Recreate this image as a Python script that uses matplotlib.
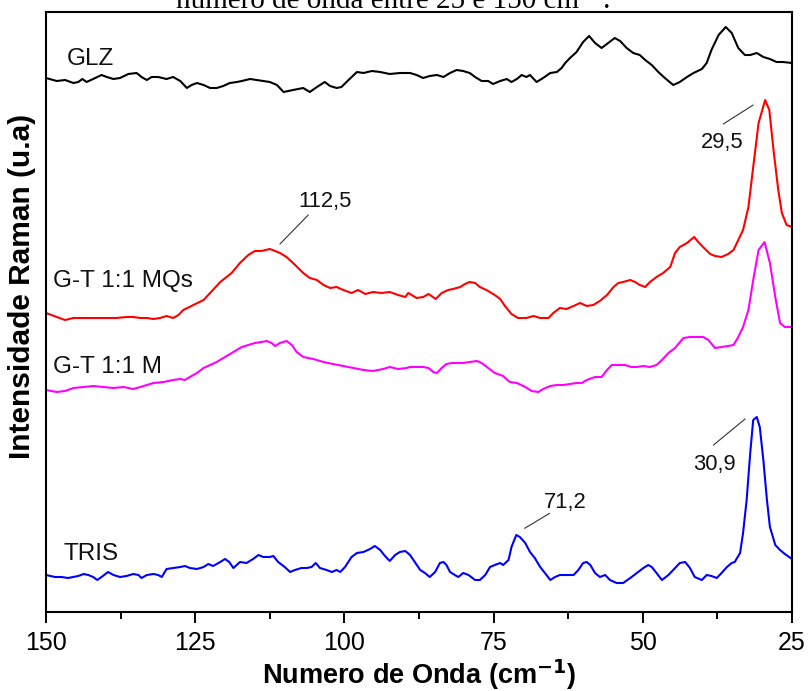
import matplotlib
matplotlib.use("Agg")
import matplotlib.pyplot as plt
from matplotlib.text import OffsetFrom
from matplotlib.ticker import MultipleLocator

# Raman spectra (wavenumber in cm^-1, intensity in arbitrary units, stacked)
glz_wn = [150.0, 148.2, 146.8, 145.4, 144.6, 143.9, 143.2, 142.1, 140.7, 139.8,
          138.7, 137.6, 136.2, 134.8, 134.0, 133.1, 132.3, 131.2, 129.8, 128.7,
          127.5, 126.4, 125.6, 124.7, 123.6, 122.5, 121.4, 120.3, 119.2, 118.0,
          117.2, 115.8, 114.7, 113.6, 112.5, 111.3, 110.2, 108.6, 106.9, 105.8,
          104.6, 103.3, 102.4, 101.3, 100.5, 99.3, 97.9, 96.8, 95.4, 94.0,
          92.4, 90.7, 89.0, 87.9, 86.8, 85.7, 84.5, 83.4, 82.3, 81.2,
          80.1, 79.0, 78.1, 77.0, 75.9, 75.1, 73.9, 72.8, 72.0, 71.1,
          70.3, 69.5, 68.9, 67.8, 66.7, 65.5, 64.4, 63.6, 63.0, 62.2,
          61.1, 60.0, 59.0, 58.0, 56.9, 55.8, 54.7, 53.8, 52.7, 51.6,
          50.5, 49.6, 48.5, 47.4, 46.3, 44.9, 43.8, 42.6, 41.5, 40.1,
          39.3, 38.5, 37.3, 36.1, 35.1, 34.0, 32.9, 32.0, 30.9, 29.8,
          28.7, 27.6, 26.5, 25.0]
glz_int = [534, 531, 532, 529, 530, 533, 530, 533, 537, 535,
           533, 534, 538, 539, 535, 532, 535, 535, 533, 535,
           531, 524, 527, 529, 527, 524, 524, 526, 529, 530,
           531, 533, 532, 531, 530, 527, 520, 522, 524, 520,
           525, 530, 526, 524, 525, 532, 540, 539, 541, 540,
           538, 539, 539, 537, 534, 536, 537, 535, 539, 542,
           541, 539, 535, 531, 531, 528, 531, 533, 530, 533,
           537, 535, 537, 530, 534, 539, 540, 544, 549, 554,
           560, 570, 576, 569, 564, 569, 574, 571, 564, 559,
           557, 552, 547, 540, 534, 527, 530, 535, 539, 543,
           549, 562, 577, 585, 579, 564, 557, 557, 559, 555,
           553, 550, 550, 549]

mqs_wn = [150.0, 148.2, 146.8, 145.4, 143.7, 142.6, 141.5, 139.8, 138.2, 136.5,
          135.4, 134.2, 133.1, 132.0, 130.9, 129.8, 128.7, 127.8, 127.0, 125.3,
          123.6, 122.5, 120.8, 118.9, 117.5, 116.1, 115.0, 113.9, 112.5, 111.6,
          110.8, 109.7, 108.6, 106.9, 105.8, 104.6, 103.5, 102.4, 101.3, 100.2,
          98.8, 97.7, 96.5, 95.2, 93.8, 92.4, 91.0, 89.8, 89.3,
          89.0, 87.9, 86.8, 85.9, 85.4, 84.7, 83.7, 82.6, 81.8, 80.6,
          79.8, 79.0, 78.1, 77.3, 76.2, 74.8, 73.9, 73.1, 72.0, 70.9,
          69.5, 68.3, 67.2, 65.8, 65.0, 63.9, 62.8, 61.6, 60.5, 59.4,
          58.3, 57.2, 56.0, 54.9, 54.1, 53.3, 52.1, 51.3, 50.5, 49.6,
          48.8, 47.7, 46.6, 45.4, 44.6, 43.8, 42.6, 41.4, 40.7, 39.9,
          38.7, 37.9, 36.8, 35.7, 34.8, 34.0, 33.2, 32.3, 31.5, 30.6,
          29.5, 28.8, 28.1, 27.3, 26.7, 25.9, 25.0]
mqs_int = [299, 295, 292, 294, 294, 294, 294, 294, 294, 295,
           295, 294, 294, 293, 294, 296, 294, 297, 302, 307,
           312, 319, 330, 339, 349, 357, 361, 361, 363, 361,
           359, 355, 349, 339, 334, 332, 327, 324, 325, 322,
           319, 322, 318, 320, 319, 320, 317, 315, 319,
           318, 314, 315, 318, 316, 313, 319, 322, 323, 325,
           328, 330, 329, 325, 322, 317, 313, 306, 298, 294,
           294, 296, 294, 294, 299, 304, 303, 306, 309, 306,
           307, 311, 317, 325, 329, 330, 332, 330, 327, 325,
           330, 335, 339, 345, 359, 365, 369, 375, 370, 365,
           358, 356, 355, 358, 362, 372, 382, 405, 445, 489,
           512, 502, 462, 422, 399, 387, 385]

m_wn = [150.0, 148.2, 146.8, 145.4, 143.7, 142.1, 140.4, 138.7, 137.0, 135.4,
        134.2, 133.1, 132.0, 130.3, 128.7, 127.5, 126.7, 125.9, 124.7, 123.6,
        122.5, 121.4, 120.0, 118.6, 117.2, 116.1, 115.0, 113.9, 113.0, 112.2,
        111.6, 110.8, 109.7, 108.8, 108.0, 106.9, 105.2, 103.5, 101.9, 100.2,
        98.5, 96.8, 95.2, 93.5, 92.4, 91.0, 89.6,
        89.0, 87.9, 86.8, 85.9, 85.1, 84.5, 83.7, 82.9, 82.0, 81.2,
        80.1, 79.0, 77.8, 77.0, 75.9, 74.8, 73.4, 72.3, 71.1, 69.7,
        68.6, 67.5, 66.7, 65.5, 64.4, 63.3, 62.2, 61.1, 60.2, 59.4,
        58.0, 56.9, 56.0, 55.2, 54.1, 53.0, 51.9, 51.0, 49.9, 48.8,
        47.7, 46.8, 45.7, 44.6, 43.2, 42.1, 41.0, 39.9, 39.0, 37.9,
        36.8, 35.7, 34.8, 34.0, 33.2, 32.3, 31.5, 30.6, 29.6, 28.7,
        27.8, 27.0, 26.2, 25.0]
m_int = [222, 220, 221, 224, 225, 226, 225, 224, 225, 223,
         225, 227, 229, 230, 232, 233, 232, 235, 239, 244,
         247, 250, 255, 260, 265, 267, 269, 270, 271, 269,
         266, 269, 271, 267, 260, 255, 253, 250, 248, 246,
         244, 242, 241, 243, 245, 243, 244,
         245, 245, 245, 244, 240, 239, 244, 248, 249, 249,
         249, 250, 251, 249, 244, 239, 236, 230, 229, 225,
         221, 220, 223, 226, 227, 227, 228, 229, 229, 232,
         235, 235, 242, 247, 247, 247, 245, 245, 246, 245,
         247, 252, 259, 264, 274, 275, 275, 275, 272, 264,
         265, 266, 267, 275, 285, 302, 332, 362, 370, 349,
         315, 289, 285, 285]

tris_wn = [150.0, 148.5, 147.4, 146.3, 145.4, 144.6, 143.7, 142.9, 142.1, 141.4,
           140.7, 139.6, 138.7, 137.6, 136.5, 135.4, 134.5, 134.0, 133.1, 132.0,
           131.2, 130.6, 129.8, 128.7, 127.5, 126.7, 125.9, 124.7, 123.6, 122.8,
           122.0, 120.8, 120.0, 119.3, 118.6, 117.5, 116.4, 115.3, 114.4, 113.6,
           112.5, 111.9, 111.1, 110.0, 109.1, 108.3, 107.2, 106.3, 105.5, 104.8,
           104.1, 103.0, 102.1, 101.3, 100.7, 99.9, 98.8, 97.9, 96.8, 95.7,
           94.9, 94.0, 93.2, 92.4, 91.5, 90.7, 89.8,
           89.0, 88.2, 87.3, 86.5, 85.7, 84.8, 84.0, 83.4, 82.9, 82.3,
           81.5, 80.9, 80.1, 79.2, 78.1, 77.3, 76.4, 75.6, 74.8, 73.9,
           73.4, 72.5, 72.0, 71.2, 70.6, 69.7, 68.9, 68.1, 67.2, 66.4,
           65.5, 64.7, 63.9, 62.8, 61.6, 60.8, 60.0, 59.4, 58.8, 58.0,
           57.2, 56.3, 55.5, 54.4, 53.3, 52.1, 51.0, 49.9, 49.1, 48.5,
           47.7, 46.8, 45.7, 44.6, 43.8, 42.9, 42.1, 41.3, 40.1, 39.3,
           38.5, 37.6, 36.8, 35.9, 35.1, 34.6, 33.7, 33.2, 32.6, 32.0,
           31.5, 30.9, 30.4, 29.8, 29.2, 28.7, 27.8, 27.0, 26.2, 25.0]
tris_int = [37, 35, 35, 34, 35, 36, 38, 37, 35, 32,
            35, 40, 37, 35, 36, 38, 37, 34, 37, 38,
            37, 35, 43, 44, 45, 46, 44, 43, 45, 48,
            46, 50, 53, 50, 44, 50, 49, 53, 57, 55,
            55, 56, 50, 45, 40, 42, 44, 44, 45, 49,
            44, 42, 40, 42, 40, 45, 55, 59, 60, 63,
            66, 62, 56, 51, 57, 60, 61,
            57, 50, 42, 39, 35, 40, 49, 50, 47, 40,
            37, 35, 39, 37, 32, 32, 37, 45, 47, 49,
            47, 52, 65, 77, 75, 69, 60, 54, 45, 39,
            32, 35, 37, 37, 37, 42, 49, 50, 47, 39,
            35, 37, 32, 29, 29, 34, 39, 44, 47, 45,
            39, 32, 37, 44, 49, 50, 44, 35, 32, 37,
            36, 34, 39, 45, 49, 50, 59, 79, 112, 159,
            192, 195, 185, 152, 112, 85, 67, 62, 58, 53]

series_names = ["GLZ", "G-T 1:1 MQs", "G-T 1:1 M", "TRIS"]
series_colors = ["#000000", "#ff0000", "#ff00ff", "#0000ff"]

x_ticks = [150, 125, 100, 75, 50, 25]

# labelled peaks: (series index, wavenumber)
peak_marks = [(1, 112.5), (1, 29.5), (3, 71.2), (3, 30.9)]

W, H = 808, 691
fig = plt.figure(figsize=(W / 100, H / 100), dpi=100)
ax = fig.add_axes([46 / W, 79 / H, 746 / W, 600 / H])

wns = [glz_wn, mqs_wn, m_wn, tris_wn]
ints = [glz_int, mqs_int, m_int, tris_int]
for wn, it, c in zip(wns, ints, series_colors):
    ax.plot(wn, it, color=c, lw=1.5, solid_joinstyle="round")

ax.set_xlim(150, 25)
ax.set_ylim(0, 600)
ax.set_yticks([])
ax.set_xticks(x_ticks)
ax.xaxis.set_minor_locator(MultipleLocator(12.5))

narrow = ["Liberation Sans Narrow", "Liberation Sans", "DejaVu Sans"]
sans = ["Liberation Sans", "DejaVu Sans"]

ax.tick_params(axis="x", which="major", direction="out", length=8, width=1.4,
               pad=6, labelsize=18)
ax.tick_params(axis="x", which="minor", direction="out", length=5, width=1.4)
for lab in ax.get_xticklabels():
    lab.set_family(narrow)
for s in ax.spines.values():
    s.set_linewidth(1.5)

plt.rcParams["mathtext.fontset"] = "custom"
plt.rcParams["mathtext.bf"] = "Liberation Sans:bold"
plt.rcParams["mathtext.rm"] = "Liberation Sans"

ax.set_xlabel(r"Numero de Onda (cm$^{\mathbf{-1}}$)", fontsize=19.5,
              fontweight="bold", family=narrow)
ax.xaxis.set_label_coords(0.5, -0.075)
ax.set_ylabel("Intensidade Raman (u.a)", fontsize=21.5, fontweight="bold",
              family=narrow)
ax.yaxis.set_label_coords(-0.013, 0.542)

# series names
name_pos = [(0.0282, 0.9117), (0.0094, 0.5417), (0.0094, 0.3978), (0.0228, 0.0867)]
for name, (px, py) in zip(series_names, name_pos):
    ax.text(px, py, name, transform=ax.transAxes, fontsize=17.5, family=sans,
            ha="left", va="baseline", color="#111111")

# peak annotations: text offset and leader line (start, end), in points
ann_layout = {
    (1, 112.5): ((39.7, 30.5), (7.3, 3.6), (27.7, 24.5)),
    (1, 29.5): ((-30.6, -34.8), (-30.2, -17.3), (-8.6, -3.6)),
    (3, 71.2): ((35.6, 19.2), (6.0, 4.8), (24.0, 15.6)),
    (3, 30.9): ((-30.7, -38.4), (-31.2, -20.2), (-8.4, -1.4)),
}
for si, pw in peak_marks:
    val = ints[si][wns[si].index(pw)]
    txt_off, l0, l1 = ann_layout[(si, pw)]
    ref = OffsetFrom(ax.transData, (pw, val), unit="points")
    label = f"{pw:.1f}".replace(".", ",")
    ax.annotate(label, xy=(0, 0), xycoords=ref, xytext=txt_off, textcoords=ref,
                fontsize=15.8, family=sans, ha="center", va="baseline",
                color="#111111")
    ax.annotate("", xy=l1, xycoords=ref, xytext=l0, textcoords=ref,
                arrowprops=dict(arrowstyle="-", lw=0.8, color="#333333",
                                shrinkA=0, shrinkB=0))

# caption line running above the frame
fig.text(393 / W, 1 - 8 / H, "número de onda entre 25 e 150 cm⁻¹.",
         fontsize=21, family=["Liberation Serif", "DejaVu Serif"],
         ha="center", va="baseline")

fig.savefig("out.png", dpi=100)
